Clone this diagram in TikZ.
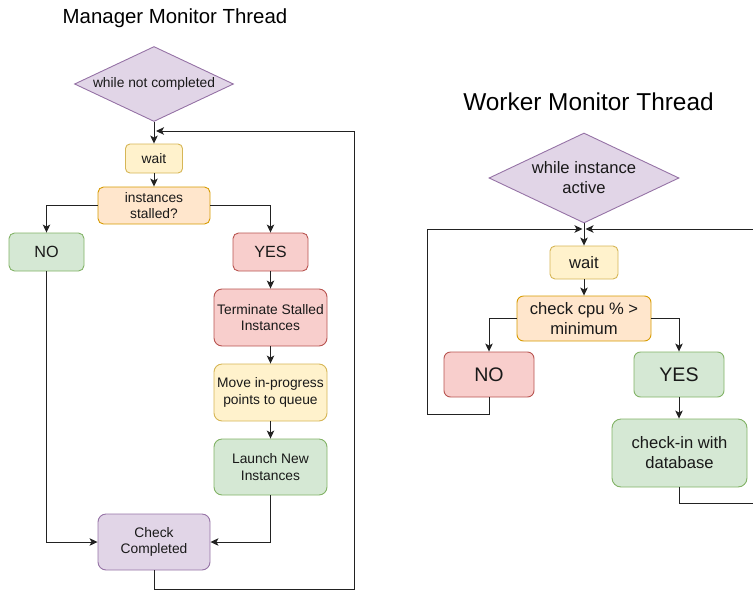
\documentclass[tikz,border=0pt]{standalone}
\usepackage{fontspec}
\setmainfont{Liberation Sans}
\usetikzlibrary{shapes.geometric,arrows.meta}
\definecolor{purF}{HTML}{E1D5E7}\definecolor{purD}{HTML}{9673A6}
\definecolor{yelF}{HTML}{FFF2CC}\definecolor{yelD}{HTML}{D6B656}
\definecolor{orgF}{HTML}{FFE6CC}\definecolor{orgD}{HTML}{D79B00}
\definecolor{grnF}{HTML}{D5E8D4}\definecolor{grnD}{HTML}{82B366}
\definecolor{redF}{HTML}{F8CECC}\definecolor{redD}{HTML}{B85450}
\definecolor{lineC}{HTML}{222222}
\tikzset{
  box/.style={draw, rectangle, inner sep=0pt, align=center, line width=0.9pt, text=black!90},
  pur/.style={fill=purF, draw=purD},
  yel/.style={fill=yelF, draw=yelD},
  org/.style={fill=orgF, draw=orgD},
  grn/.style={fill=grnF, draw=grnD},
  red/.style={fill=redF, draw=redD},
  mfont/.style={font=\fontsize{13.8}{16.6}\selectfont},
  mbig/.style={font=\fontsize{16.2}{19}\selectfont},
  wfont/.style={font=\fontsize{16.6}{20}\selectfont},
  wbig/.style={font=\fontsize{19.6}{23}\selectfont},
  dia/.style={draw, diamond, inner sep=0pt, align=center, line width=0.9pt, text=black!90},
  conn/.style={draw=lineC, line width=1pt},
  arr/.style={conn, -{Stealth[length=8pt,width=7.5pt,inset=2pt]}},
}
\begin{document}
\begin{tikzpicture}[x=1pt,y=-1pt]
\useasboundingbox (0,0) rectangle (753,590);
% ---------------- Manager ----------------
\node[anchor=base, font=\fontsize{20.4}{24}\selectfont] (mtitle) at (175,23) {Manager Monitor Thread};
\node[dia, pur, mfont, minimum width=159pt, minimum height=75pt, aspect=2.12] (mwhile) at (154,84) {while not completed};
\node[box, yel, mfont, minimum width=57pt, minimum height=29pt, rounded corners=4.5pt] (mwait) at (154,158.5) {wait};
\node[box, org, mfont, minimum width=112pt, minimum height=37pt, rounded corners=5.5pt] (mstall) at (154,205.5) {instances\\stalled?};
\node[box, grn, mbig, minimum width=75pt, minimum height=38pt, rounded corners=5.5pt] (mno) at (46.5,252) {NO};
\node[box, red, mbig, minimum width=75pt, minimum height=38pt, rounded corners=5.5pt] (myes) at (270.5,252) {YES};
\node[box, red, mfont, minimum width=113pt, minimum height=57pt, rounded corners=8pt] (mterm) at (270.5,317.5) {Terminate Stalled\\Instances};
\node[box, yel, mfont, minimum width=113pt, minimum height=57pt, rounded corners=8pt] (mmove) at (270.5,392.5) {Move in-progress\\points to queue};
\node[box, grn, mfont, minimum width=113pt, minimum height=56pt, rounded corners=8pt] (mlaunch) at (270.5,467) {Launch New\\Instances};
\node[box, pur, mfont, minimum width=112pt, minimum height=56pt, rounded corners=8pt] (mcheck) at (154,542) {Check\\Completed};
\coordinate (mloop) at (156,131);

\draw[arr] (mwhile.south) -- (mwait.north);
\draw[arr] (mwait.south) -- (mstall.north);
\draw[arr] (mstall.west) -| (mno.north);
\draw[arr] (mstall.east) -| (myes.north);
\draw[arr] (myes.south) -- (mterm.north);
\draw[arr] (mterm.south) -- (mmove.north);
\draw[arr] (mmove.south) -- (mlaunch.north);
\draw[arr] (mno.south) |- (mcheck.west);
\draw[arr] (mlaunch.south) |- (mcheck.east);
\draw[arr] (mcheck.south) -- (154,589) -- (354,589) -- (354,131) -- (mloop);

% ---------------- Worker ----------------
\node[anchor=base, font=\fontsize{24.4}{28}\selectfont] (wtitle) at (588.5,110.7) {Worker Monitor Thread};
\node[dia, pur, wfont, minimum width=190pt, minimum height=90pt, aspect=2.11] (wwhile) at (584,178) {while instance\\active};
\node[box, yel, wfont, minimum width=68pt, minimum height=33pt, rounded corners=5pt] (wwait) at (584,262.5) {wait};
\node[box, org, wfont, minimum width=134pt, minimum height=45pt, rounded corners=6.5pt] (wcpu) at (584,318.5) {check cpu \% >\\minimum};
\node[box, red, wbig, minimum width=90pt, minimum height=45pt, rounded corners=6.5pt] (wno) at (489,374.5) {NO};
\node[box, grn, wbig, minimum width=90pt, minimum height=45pt, rounded corners=6.5pt] (wyes) at (679,374.5) {YES};
\node[box, grn, wfont, minimum width=135pt, minimum height=68pt, rounded corners=9pt] (wcheckin) at (679.5,453) {check-in with\\database};
\coordinate (wleftin) at (582.5,229);
\coordinate (wrightin) at (585.5,229);
\coordinate (wrightedge) at (753,229);
\coordinate (wout) at (753,503);

\draw[arr] (wwhile.south) -- (wwait.north);
\draw[arr] (wwait.south) -- (wcpu.north);
\draw[arr] (wcpu.west) -| (wno.north);
\draw[arr] (wcpu.east) -| (wyes.north);
\draw[arr] (wyes.south) -- (wyes.south |- wcheckin.north);
\draw[arr] (wno.south) -- (489,414) -- (427,414) -- (427,229) -- (wleftin);
\draw[conn] (wcheckin.south -| wyes.south) -- (679,503) -- (wout);
\draw[arr] (wrightedge) -- (wrightin);
\end{tikzpicture}
\end{document}
